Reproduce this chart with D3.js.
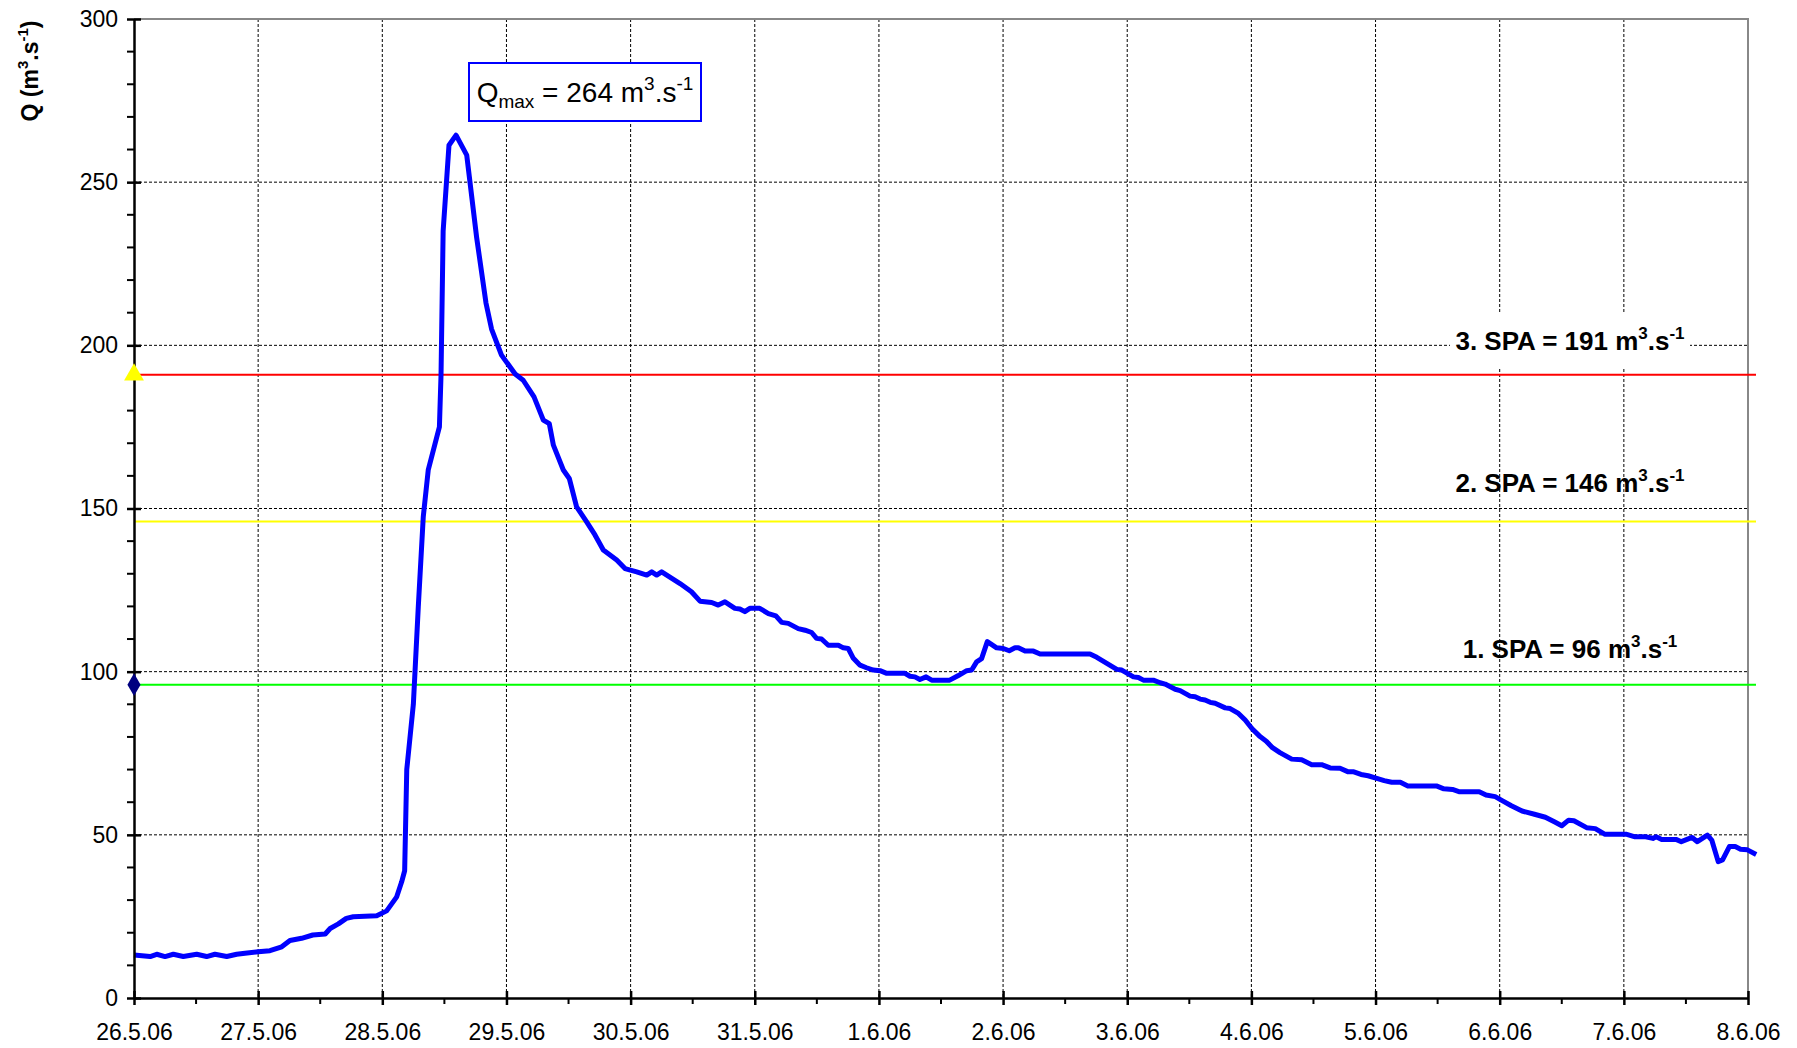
<!DOCTYPE html>
<html>
<head>
<meta charset="utf-8">
<script src="https://cdn.jsdelivr.net/npm/d3@7"></script>
<style>
  body { margin: 0; background: #fff; }
  svg { font-family: "Liberation Sans", Arial, sans-serif; }
</style>
</head>
<body>
<script>
// Tick labels on the time axis (one per day)
var dayLabels = ["26.5.06", "27.5.06", "28.5.06", "29.5.06", "30.5.06", "31.5.06", "1.6.06",
  "2.6.06", "3.6.06", "4.6.06", "5.6.06", "6.6.06", "7.6.06", "8.6.06"];

// Y ticks
var yMajor = [0, 50, 100, 150, 200, 250, 300];

// Discharge series, time in days after 26.5.06 00:00
var dayOffset = [0, 0.13, 0.183, 0.25, 0.317, 0.397, 0.505, 0.585, 0.652, 0.747, 0.827, 0.894,
  1.0, 1.095, 1.19, 1.256, 1.35, 1.44, 1.54, 1.58, 1.646, 1.71, 1.766, 1.955, 2.035, 2.116,
  2.156, 2.18, 2.197, 2.25, 2.29, 2.33, 2.37, 2.46, 2.473, 2.49, 2.537, 2.594, 2.68, 2.76,
  2.835, 2.88, 2.96, 3.07, 3.135, 3.222, 3.297, 3.345, 3.378, 3.458, 3.506, 3.565, 3.646,
  3.713, 3.78, 3.888, 3.955, 4.049, 4.13, 4.17, 4.21, 4.25, 4.398, 4.49, 4.559, 4.653, 4.706,
  4.76, 4.84, 4.88, 4.92, 4.96, 5.04, 5.11, 5.17, 5.217, 5.27, 5.35, 5.405, 5.458, 5.498,
  5.538, 5.592, 5.673, 5.713, 5.753, 5.794, 5.848, 5.9, 5.955, 6.009, 6.063, 6.21, 6.25, 6.29,
  6.33, 6.38, 6.425, 6.57, 6.64, 6.707, 6.747, 6.787, 6.827, 6.873, 6.948, 7.002, 7.05, 7.096,
  7.123, 7.177, 7.244, 7.298, 7.7, 7.755, 7.916, 7.956, 8.05, 8.09, 8.13, 8.21, 8.265, 8.305,
  8.386, 8.426, 8.506, 8.547, 8.587, 8.627, 8.668, 8.708, 8.789, 8.829, 8.896, 8.95, 9.004,
  9.07, 9.12, 9.17, 9.23, 9.325, 9.405, 9.486, 9.566, 9.634, 9.714, 9.78, 9.825, 9.883, 9.94,
  10.01, 10.07, 10.13, 10.2, 10.26, 10.49, 10.55, 10.62, 10.677, 10.835, 10.89, 10.964, 11.02,
  11.094, 11.18, 11.28, 11.368, 11.44, 11.5, 11.555, 11.598, 11.7, 11.77, 11.845, 12.017,
  12.09, 12.176, 12.234, 12.26, 12.305, 12.42, 12.463, 12.55, 12.592, 12.673, 12.708, 12.76,
  12.795, 12.85, 12.897, 12.94, 12.995, 13.066];

var discharge = [13.2, 12.7, 13.4, 12.7, 13.4, 12.7, 13.4, 12.7, 13.4, 12.7, 13.4, 13.7,
  14.2, 14.5, 15.7, 17.6, 18.3, 19.3, 19.6, 21.3, 22.7, 24.4, 24.9, 25.2, 26.7, 31,
  35.6, 39, 70, 90, 120, 147.5, 161.8, 175, 191, 235, 261.3, 264.4, 258.3, 233,
  213, 205, 197, 191.2, 189.3, 184.2, 177.1, 176, 169.4, 161.8, 159.2, 150.5, 145.9,
  141.9, 137.3, 134.2, 131.6, 130.6, 129.6, 130.6, 129.6, 130.6, 127, 124.5, 121.6, 121.2, 120.4,
  121.4, 119.4, 119.2, 118.4, 119.4, 119.4, 117.8, 117.1, 115.1, 114.8, 113.2, 112.7, 112, 110.2,
  110, 108.1, 108.1, 107.3, 107.1, 104.1, 102, 101.2, 100.5, 100.3, 99.5, 99.5, 98.6, 98.4,
  97.6, 98.4, 97.4, 97.4, 98.8, 100.3, 100.5, 103, 104, 109.2, 107.3, 107.1, 106.4, 107.3,
  107.3, 106.3, 106.3, 105.4, 105.4, 104.4, 100.7, 100.5, 98.4, 98.2, 97.4, 97.4, 96.6, 96.2,
  94.6, 94.2, 92.5, 92.3, 91.6, 91.3, 90.6, 90.3, 88.9, 88.7, 87.2, 85.2, 82.6,
  80.1, 78.7, 76.7, 75.2, 73.2, 73.0, 71.5, 71.5, 70.5, 70.4, 69.3, 69.3, 68.5, 68.1,
  67.3, 66.6, 66.1, 66.1, 65, 65, 64.1, 63.9, 63.2, 63.2, 62.2, 61.7, 60.5,
  58.9, 57.3, 56.3, 55.4, 54, 52.8, 54.5, 54.3, 52.2, 51.9, 50.2, 50.2,
  49.4, 49.4, 48.9, 49.4, 48.6, 48.6, 47.9, 49.2, 47.9, 49.9, 48.4, 41.8,
  42.3, 46.4, 46.4, 45.6, 45.4, 44];

// Flood warning levels (SPA)
var spaLevels = [96, 146, 191];
var spaNames = ["1. SPA", "2. SPA", "3. SPA"];
var qMax = 264;

// Layout
var svgWidth = 1797, svgHeight = 1048;
var margin = { top: 19, right: 49, bottom: 50, left: 134 };
var width = svgWidth - margin.left - margin.right;
var height = svgHeight - margin.top - margin.bottom;

var svg = d3.select("body").append("svg")
  .attr("width", svgWidth)
  .attr("height", svgHeight);

var chartGroup = svg.append("g")
  .attr("transform", `translate(${margin.left}, ${margin.top})`);

var parseDay = d3.timeParse("%d.%m.%y");
var dayDates = dayLabels.map(parseDay);
var start = dayDates[0];

var series = dayOffset.map(function(d, i) {
  return { t: new Date(+start + d * 864e5), q: discharge[i] };
});

var xScale = d3.scaleTime()
  .domain([dayDates[0], dayDates[dayDates.length - 1]])
  .range([0, width]);

var yScale = d3.scaleLinear()
  .domain([0, 300])
  .range([height, 0]);

// Grid lines
chartGroup.append("g").selectAll("line")
  .data(yMajor.slice(1, -1))
  .enter().append("line")
  .attr("x1", 0).attr("x2", width)
  .attr("y1", d => yScale(d)).attr("y2", d => yScale(d))
  .attr("stroke", "#000").attr("stroke-width", 1).attr("stroke-dasharray", "3,2");

chartGroup.append("g").selectAll("line")
  .data(dayDates.slice(1, -1))
  .enter().append("line")
  .attr("x1", d => xScale(d)).attr("x2", d => xScale(d))
  .attr("y1", 0).attr("y2", height)
  .attr("stroke", "#000").attr("stroke-width", 1).attr("stroke-dasharray", "3,2");

// Frame (top and right)
chartGroup.append("path")
  .attr("d", `M0,0H${width}V${height}`)
  .attr("fill", "none").attr("stroke", "#888").attr("stroke-width", 2);

// White box behind the 3. SPA label
var labelX = width - 178;
chartGroup.append("rect")
  .attr("x", labelX - 120).attr("y", yScale(200) - 32)
  .attr("width", 240).attr("height", 54)
  .attr("fill", "#fff");

// SPA lines
var spaColors = ["#00ff00", "#ffff00", "#ff0000"];
chartGroup.append("g").selectAll("line")
  .data(spaLevels)
  .enter().append("line")
  .attr("x1", 0).attr("x2", width + 8)
  .attr("y1", d => yScale(d)).attr("y2", d => yScale(d))
  .attr("stroke", (d, i) => spaColors[i]).attr("stroke-width", 2);

// SPA labels
var labelOffsets = [-27, -29.5, -25];
var spaText = chartGroup.append("g").selectAll("text")
  .data(spaLevels)
  .enter().append("text")
  .attr("x", labelX)
  .attr("y", (d, i) => yScale(d) + labelOffsets[i])
  .attr("text-anchor", "middle")
  .attr("font-weight", "bold")
  .attr("font-size", 26);
spaText.append("tspan").text((d, i) => spaNames[i] + " = " + d + " m");
spaText.append("tspan").attr("font-size", 17).attr("dy", -11).text("3");
spaText.append("tspan").attr("dy", 11).text(".s");
spaText.append("tspan").attr("font-size", 17).attr("dy", -11).text("-1");

// Discharge line
var line = d3.line()
  .x(d => xScale(d.t))
  .y(d => yScale(d.q));

chartGroup.append("path")
  .datum(series)
  .attr("d", line)
  .attr("fill", "none")
  .attr("stroke", "#0000ff")
  .attr("stroke-width", 5)
  .attr("stroke-linejoin", "round");

// Axes
var leftAxis = d3.axisLeft(yScale).tickValues(yMajor)
  .tickSizeInner(7).tickSizeOuter(0).tickPadding(9);
var yAxisG = chartGroup.append("g").call(leftAxis);
yAxisG.selectAll(".tick line").attr("x1", 7).attr("stroke-width", 2.5);
yAxisG.select(".domain").attr("stroke-width", 2.5);
yAxisG.selectAll("text").attr("font-size", 23).attr("fill", "#000")
  .attr("font-family", "Liberation Sans, Arial, sans-serif");

var yMinor = d3.range(10, 300, 10).filter(d => d % 50 !== 0);
chartGroup.append("g").selectAll("line")
  .data(yMinor)
  .enter().append("line")
  .attr("x1", -7).attr("x2", 0)
  .attr("y1", d => yScale(d)).attr("y2", d => yScale(d))
  .attr("stroke", "#000").attr("stroke-width", 2);

var bottomAxis = d3.axisBottom(xScale).tickValues(dayDates)
  .tickFormat((d, i) => dayLabels[i])
  .tickSizeInner(7).tickSizeOuter(0).tickPadding(19);
var xAxisG = chartGroup.append("g")
  .attr("transform", `translate(0,${height})`)
  .call(bottomAxis);
xAxisG.selectAll(".tick line").attr("y1", -7).attr("stroke-width", 2.5);
xAxisG.select(".domain").attr("stroke-width", 2.5);
xAxisG.selectAll("text").attr("font-size", 23).attr("fill", "#000")
  .attr("font-family", "Liberation Sans, Arial, sans-serif");

var xMinor = dayDates.slice(0, -1).map(d => d3.timeHour.offset(d, 12));
chartGroup.append("g").selectAll("line")
  .data(xMinor)
  .enter().append("line")
  .attr("x1", d => xScale(d)).attr("x2", d => xScale(d))
  .attr("y1", height).attr("y2", height + 6)
  .attr("stroke", "#000").attr("stroke-width", 2);

// Markers on the y axis
chartGroup.append("path")
  .attr("d", d3.symbol(d3.symbolTriangle, 170)())
  .attr("transform", `translate(0,${yScale(spaLevels[2])})`)
  .attr("fill", "#ffff00");
chartGroup.append("path")
  .attr("d", d3.symbol(d3.symbolDiamond, 150)())
  .attr("transform", `translate(0,${yScale(spaLevels[0])})`)
  .attr("fill", "#000080");

// Y axis title
var yTitle = svg.append("text")
  .attr("transform", "translate(38,71) rotate(-90)")
  .attr("text-anchor", "middle")
  .attr("font-weight", "bold")
  .attr("font-size", 23);
yTitle.append("tspan").text("Q (m");
yTitle.append("tspan").attr("font-size", 15).attr("dy", -10).text("3");
yTitle.append("tspan").attr("dy", 10).text(".s");
yTitle.append("tspan").attr("font-size", 15).attr("dy", -10).text("-1");
yTitle.append("tspan").attr("dy", 10).text(")");

// Qmax annotation
svg.append("rect")
  .attr("x", 469).attr("y", 63)
  .attr("width", 232).attr("height", 58)
  .attr("fill", "#fff").attr("stroke", "#0000ff").attr("stroke-width", 2);
var qText = svg.append("text")
  .attr("x", 585).attr("y", 102)
  .attr("text-anchor", "middle")
  .attr("font-size", 28);
qText.append("tspan").text("Q");
qText.append("tspan").attr("font-size", 19).attr("dy", 6).text("max");
qText.append("tspan").attr("dy", -6).text(" = " + qMax + " m");
qText.append("tspan").attr("font-size", 19).attr("dy", -12).text("3");
qText.append("tspan").attr("dy", 12).text(".s");
qText.append("tspan").attr("font-size", 19).attr("dy", -12).text("-1");
</script>
</body>
</html>
